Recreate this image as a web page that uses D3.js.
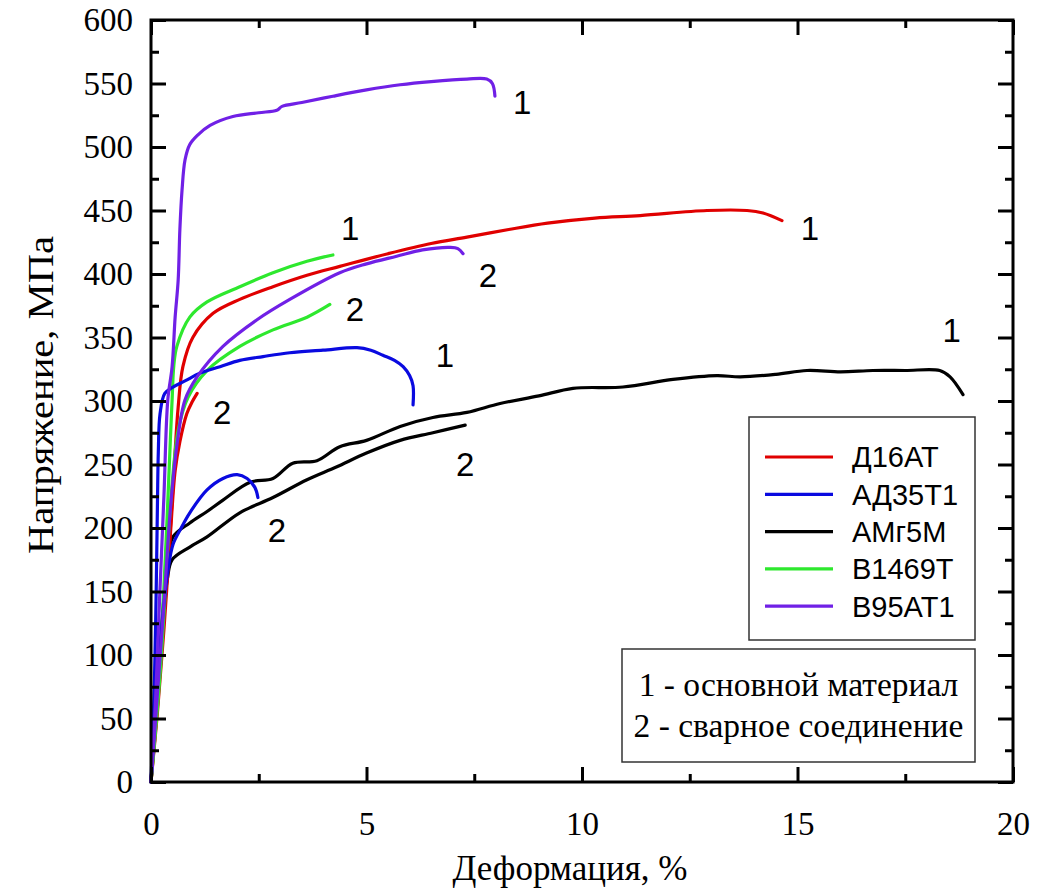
<!DOCTYPE html>
<html>
<head>
<meta charset="utf-8">
<script src="https://cdn.jsdelivr.net/npm/d3@7"></script>
<style>
  body { margin: 0; background: #fff; }
  svg { display: block; }
</style>
</head>
<body>
<div id="chart"></div>
<script>
// Stress-strain curves, [strain %, stress MPa]
const d16at_1 = [[0,0],[0.15,60],[0.3,130],[0.45,200],[0.55,255],[0.63,295],[0.74,327],[0.97,350],[1.44,369],[2.06,380],[2.83,390],[3.62,399],[4.38,406],[5.5,416],[6.5,424],[7.33,429],[8.3,435],[9.2,440],[10.3,444],[11.35,446],[12.9,450],[13.83,450],[14.2,448],[14.64,442]];
const d16at_2 = [[0,0],[0.15,55],[0.3,120],[0.45,195],[0.56,245],[0.67,268],[0.83,290],[0.95,299],[1.07,306]];
const ad35_1 = [[0,0],[0.08,80],[0.12,150],[0.15,220],[0.17,260],[0.21,290],[0.32,306],[0.51,311],[0.8,316],[1.14,322],[1.6,327],[2.06,332],[2.6,335],[3.22,338],[3.99,340],[4.78,342],[5.1,340],[5.38,336],[5.65,332],[5.85,327],[6.0,320],[6.08,312],[6.08,297]];
const ad35_2 = [[0,0],[0.15,80],[0.3,140],[0.4,168],[0.51,187],[0.7,200],[0.9,212],[1.3,230],[1.67,239],[2.0,242],[2.23,239],[2.41,232],[2.48,224]];
const amg5_1 = [[0,0],[0.12,60],[0.22,110],[0.3,145],[0.38,170],[0.51,193],[0.9,204],[1.3,213],[1.67,222],[2.3,236],[2.83,239],[3.29,251],[3.85,253],[4.38,264],[5.0,269],[5.78,280],[6.54,287],[7.33,291],[8.1,298],[9.0,304],[9.79,310],[10.95,311],[12.11,317],[13.13,320],[13.67,319],[14.5,321],[15.22,324],[16.0,323],[16.75,324],[17.5,324],[18.3,324],[18.54,319],[18.84,305]];
const amg5_2 = [[0,0],[0.12,55],[0.22,100],[0.3,135],[0.38,160],[0.49,175],[0.9,185],[1.3,193],[2.06,212],[2.83,224],[3.62,238],[4.3,248],[5.0,259],[5.78,269],[6.54,275],[7.29,281]];
const v1469_1 = [[0,0],[0.2,90],[0.35,190],[0.45,270],[0.49,301],[0.53,328],[0.6,343],[0.9,366],[1.3,378],[2.06,390],[2.83,401],[3.62,410],[4.22,415]];
const v1469_2 = [[0,0],[0.2,80],[0.35,160],[0.44,212],[0.63,277],[0.86,303],[1.3,324],[2.06,343],[2.83,356],[3.62,366],[4.15,376]];
const v95_1 = [[0,0],[0.1,60],[0.2,145],[0.3,225],[0.39,301],[0.49,327],[0.56,366],[0.63,395],[0.67,435],[0.72,466],[0.79,490],[0.9,502],[1.07,509],[1.37,517],[1.9,524],[2.5,527],[2.92,529],[3.04,532],[3.5,535],[4.22,540],[5.0,545],[5.78,549],[6.5,551.5],[7.33,553.5],[7.79,553.5],[7.92,550],[7.98,540]];
const v95_2 = [[0,0],[0.15,70],[0.3,140],[0.45,215],[0.6,265],[0.79,301],[1.07,319],[1.67,343],[2.46,364],[3.22,380],[4.38,401],[5.0,408],[5.7,414],[6.3,419],[6.94,421],[7.12,420],[7.24,416]];

const alloys = ["Д16АТ", "АД35Т1", "АМг5М", "В1469Т", "В95АТ1"];
const colors = ["#e00000", "#0a0ae0", "#000000", "#2ee82e", "#7020e6"];

// curve number labels: [strain, stress, text]
const curveLabels = [
  [8.61, 535, "1"], [4.62, 436, "1"], [15.29, 436, "1"], [7.82, 399, "2"],
  [4.73, 372, "2"], [6.82, 336, "1"], [1.65, 291, "2"], [18.58, 356, "1"],
  [7.29, 250, "2"], [2.92, 198, "2"]
];

const xTicks = [0, 5, 10, 15, 20];
const yTicks = [0, 50, 100, 150, 200, 250, 300, 350, 400, 450, 500, 550, 600];
const noteLines = ["1 - основной материал", "2 - сварное соединение"];

const series = [
  { data: amg5_1, alloy: 2 }, { data: amg5_2, alloy: 2 },
  { data: d16at_1, alloy: 0 }, { data: d16at_2, alloy: 0 },
  { data: v1469_1, alloy: 3 }, { data: v1469_2, alloy: 3 },
  { data: ad35_1, alloy: 1 }, { data: ad35_2, alloy: 1 },
  { data: v95_2, alloy: 4 }, { data: v95_1, alloy: 4 }
];

const W = 1060, H = 895;
const margin = { top: 20, right: 47, bottom: 113, left: 151 },
      width = W - margin.left - margin.right,
      height = H - margin.top - margin.bottom;

const svg = d3.select("#chart").append("svg")
    .attr("width", W)
    .attr("height", H);

const g = svg.append("g")
    .attr("transform", `translate(${margin.left},${margin.top})`);

const x = d3.scaleLinear().domain([0, 20]).range([0, width]);
const y = d3.scaleLinear().domain([0, 600]).range([height, 0]);

const serif = "'Liberation Serif', 'DejaVu Serif', serif";
const sans = "'Liberation Sans', Arial, sans-serif";

// curves
const line = d3.line()
    .x(d => x(d[0]))
    .y(d => y(d[1]))
    .curve(d3.curveCatmullRom.alpha(0.5));

g.selectAll(".curve")
    .data(series)
    .enter().append("path")
    .attr("class", "curve")
    .attr("d", d => line(d.data))
    .attr("fill", "none")
    .attr("stroke", d => colors[d.alloy])
    .attr("stroke-width", 3.2)
    .attr("stroke-linejoin", "round")
    .attr("stroke-linecap", "round");

// axes with inward ticks, mirrored on top/right
const minorX = d3.range(0, 20.01, 2.5).filter(v => v % 5 !== 0);
const minorY = d3.range(25, 600, 50);

function styleAxis(sel) {
  sel.select(".domain").remove();
  sel.selectAll(".tick line").attr("stroke", "#000").attr("stroke-width", 3);
  sel.selectAll(".tick text").attr("fill", "#000");
}

g.append("g").attr("transform", `translate(0,${height})`)
    .call(d3.axisBottom(x).tickValues(xTicks).tickSize(-15).tickPadding(30).tickFormat(d3.format("d")))
    .call(styleAxis)
    .selectAll("text").style("font-family", serif).style("font-size", "33px");
g.append("g").attr("transform", `translate(0,${height})`)
    .call(d3.axisBottom(x).tickValues(minorX).tickSize(-8).tickFormat(""))
    .call(styleAxis);
g.append("g")
    .call(d3.axisTop(x).tickValues(xTicks).tickSize(-15).tickFormat(""))
    .call(styleAxis);
g.append("g")
    .call(d3.axisTop(x).tickValues(minorX).tickSize(-8).tickFormat(""))
    .call(styleAxis);

g.append("g")
    .call(d3.axisLeft(y).tickValues(yTicks).tickSize(-15).tickPadding(18).tickFormat(d3.format("d")))
    .call(styleAxis)
    .selectAll("text").style("font-family", serif).style("font-size", "33px");
g.append("g")
    .call(d3.axisLeft(y).tickValues(minorY).tickSize(-8).tickFormat(""))
    .call(styleAxis);
g.append("g").attr("transform", `translate(${width},0)`)
    .call(d3.axisRight(y).tickValues(yTicks).tickSize(-15).tickFormat(""))
    .call(styleAxis);
g.append("g").attr("transform", `translate(${width},0)`)
    .call(d3.axisRight(y).tickValues(minorY).tickSize(-8).tickFormat(""))
    .call(styleAxis);

// frame
g.append("rect")
    .attr("width", width)
    .attr("height", height)
    .attr("fill", "none")
    .attr("stroke", "#000")
    .attr("stroke-width", 3);

// curve number labels
g.selectAll(".clabel")
    .data(curveLabels)
    .enter().append("text")
    .attr("class", "clabel")
    .attr("x", d => x(d[0]))
    .attr("y", d => y(d[1]))
    .attr("dy", "0.36em")
    .attr("text-anchor", "middle")
    .style("font-family", sans)
    .style("font-size", "33px")
    .text(d => d[2]);

// legend of alloys
const leg = g.append("g").attr("transform", `translate(${749 - margin.left},${417 - margin.top})`);
leg.append("rect")
    .attr("width", 226).attr("height", 223)
    .attr("fill", "#fff").attr("stroke", "#333").attr("stroke-width", 1.5);
alloys.forEach((name, i) => {
  const ly = 40 + i * 37.3;
  leg.append("line")
      .attr("x1", 16).attr("x2", 84)
      .attr("y1", ly).attr("y2", ly)
      .attr("stroke", colors[i]).attr("stroke-width", 3.2);
  leg.append("text")
      .attr("x", 103).attr("y", ly).attr("dy", "0.36em")
      .style("font-family", sans).style("font-size", "29px")
      .text(name);
});

// note box
const note = g.append("g").attr("transform", `translate(${622 - margin.left},${649 - margin.top})`);
note.append("rect")
    .attr("width", 353).attr("height", 113)
    .attr("fill", "#fff").attr("stroke", "#333").attr("stroke-width", 1.5);
noteLines.forEach((t, i) => {
  note.append("text")
      .attr("x", 176.5).attr("y", 47 + i * 41)
      .attr("text-anchor", "middle")
      .style("font-family", serif).style("font-size", "33.5px")
      .text(t);
});

// axis titles
svg.append("text")
    .attr("x", 570)
    .attr("y", 880)
    .attr("text-anchor", "middle")
    .style("font-family", serif)
    .style("font-size", "35px")
    .text("Деформация, %");

svg.append("text")
    .attr("transform", "rotate(-90)")
    .attr("x", -395)
    .attr("y", 53)
    .attr("text-anchor", "middle")
    .attr("textLength", 318)
    .attr("lengthAdjust", "spacingAndGlyphs")
    .style("font-family", serif)
    .style("font-size", "36px")
    .text("Напряжение, МПа");
</script>
</body>
</html>
